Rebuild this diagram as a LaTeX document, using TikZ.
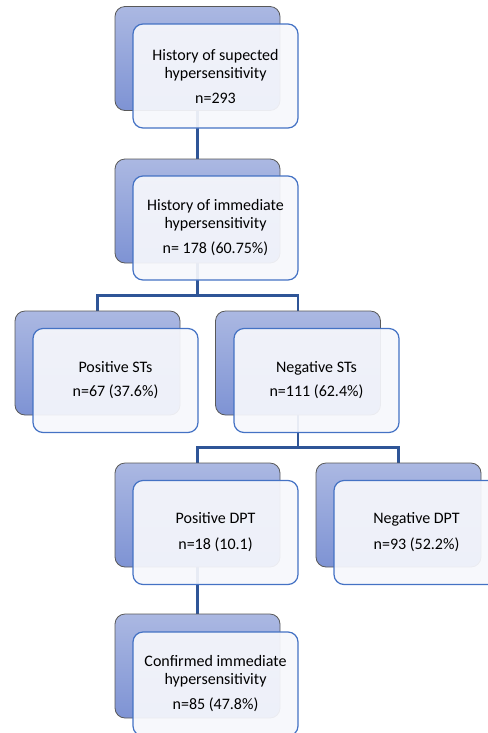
\documentclass[tikz,border=0pt]{standalone}
\usepackage{fontspec}
\setmainfont{Carlito}
\usetikzlibrary{backgrounds}

\definecolor{boxtop}{RGB}{171,184,226}
\definecolor{boxbottom}{RGB}{126,147,212}

\tikzset{
    backbox/.style={draw={rgb, 255:red, 89; green, 89; blue, 89 }, line width=0.6pt, rounded corners=7.5pt, top color=boxtop, bottom color=boxbottom, minimum width=123.75pt, minimum height=78pt, inner sep=0pt},
    frontbox/.style={draw={rgb, 255:red, 68; green, 114; blue, 196 }, line width=0.9pt, rounded corners=7.5pt, fill={rgb, 255:red, 246; green, 247; blue, 252 }, fill opacity=0.93, text opacity=1, minimum width=123.75pt, minimum height=78pt, inner sep=0pt, align=center, font=\fontsize{12}{13.5}\selectfont},
    conn/.style={color={rgb, 255:red, 47; green, 85; blue, 151 }, line width=1.6pt}
}

\begin{document}
\begin{tikzpicture}[x=0.75pt,y=0.75pt,yscale=-1,xscale=1]
        \useasboundingbox (0,0) rectangle (488,733);
        % Level 1
        \draw (197.5,58.5) node [backbox] (b1) {};
        \draw (215.5,76) node [frontbox] (f1) {History of supected\\hypersensitivity\\[5.25pt]n=293};
        % Level 2
        \draw (197.5,211) node [backbox] (b2) {};
        \draw (215.5,228) node [frontbox] (f2) {History of immediate\\hypersensitivity\\[5.25pt]n= 178 (60.75\%)};
        % Level 3
        \draw (97.5,363) node [backbox] (b3a) {};
        \draw (115.5,380.5) node [frontbox] (f3a) {Positive STs\\[4.5pt]n=67 (37.6\%)};
        \draw (298,363) node [backbox] (b3b) {};
        \draw (316.5,380.5) node [frontbox] (f3b) {Negative STs\\[4.5pt]n=111 (62.4\%)};
        % Level 4
        \draw (197.5,515) node [backbox] (b4a) {};
        \draw (215.5,532.5) node [frontbox] (f4a) {Positive DPT\\[6pt]n=18 (10.1)};
        \draw (398.5,515) node [backbox] (b4b) {};
        \draw (416.5,532.5) node [frontbox] (f4b) {Negative DPT\\[6pt]n=93 (52.2\%)};
        % Level 5
        \draw (197.5,666) node [backbox] (b5) {};
        \draw (215.5,684) node [frontbox] (f5) {Confirmed immediate\\hypersensitivity\\[5.25pt]n=85 (47.8\%)};
        % Junctions
        \coordinate (j2) at (197.5,295.5);
        \coordinate (j3) at (298,447.5);
        \begin{scope}[on background layer]
        % Connection
        \draw [conn] (b1.south) -- (b2.north);
        % Connection
        \draw [conn] (b2.south) -- (j2) -| (b3a.north);
        \draw [conn] (j2) -| (b3b.north);
        % Connection
        \draw [conn] (b3b.south) -- (j3) -| (b4a.north);
        \draw [conn] (j3) -| (b4b.north);
        % Connection
        \draw [conn] (b4a.south) -- (b5.north);
        \end{scope}
\end{tikzpicture}
\end{document}
